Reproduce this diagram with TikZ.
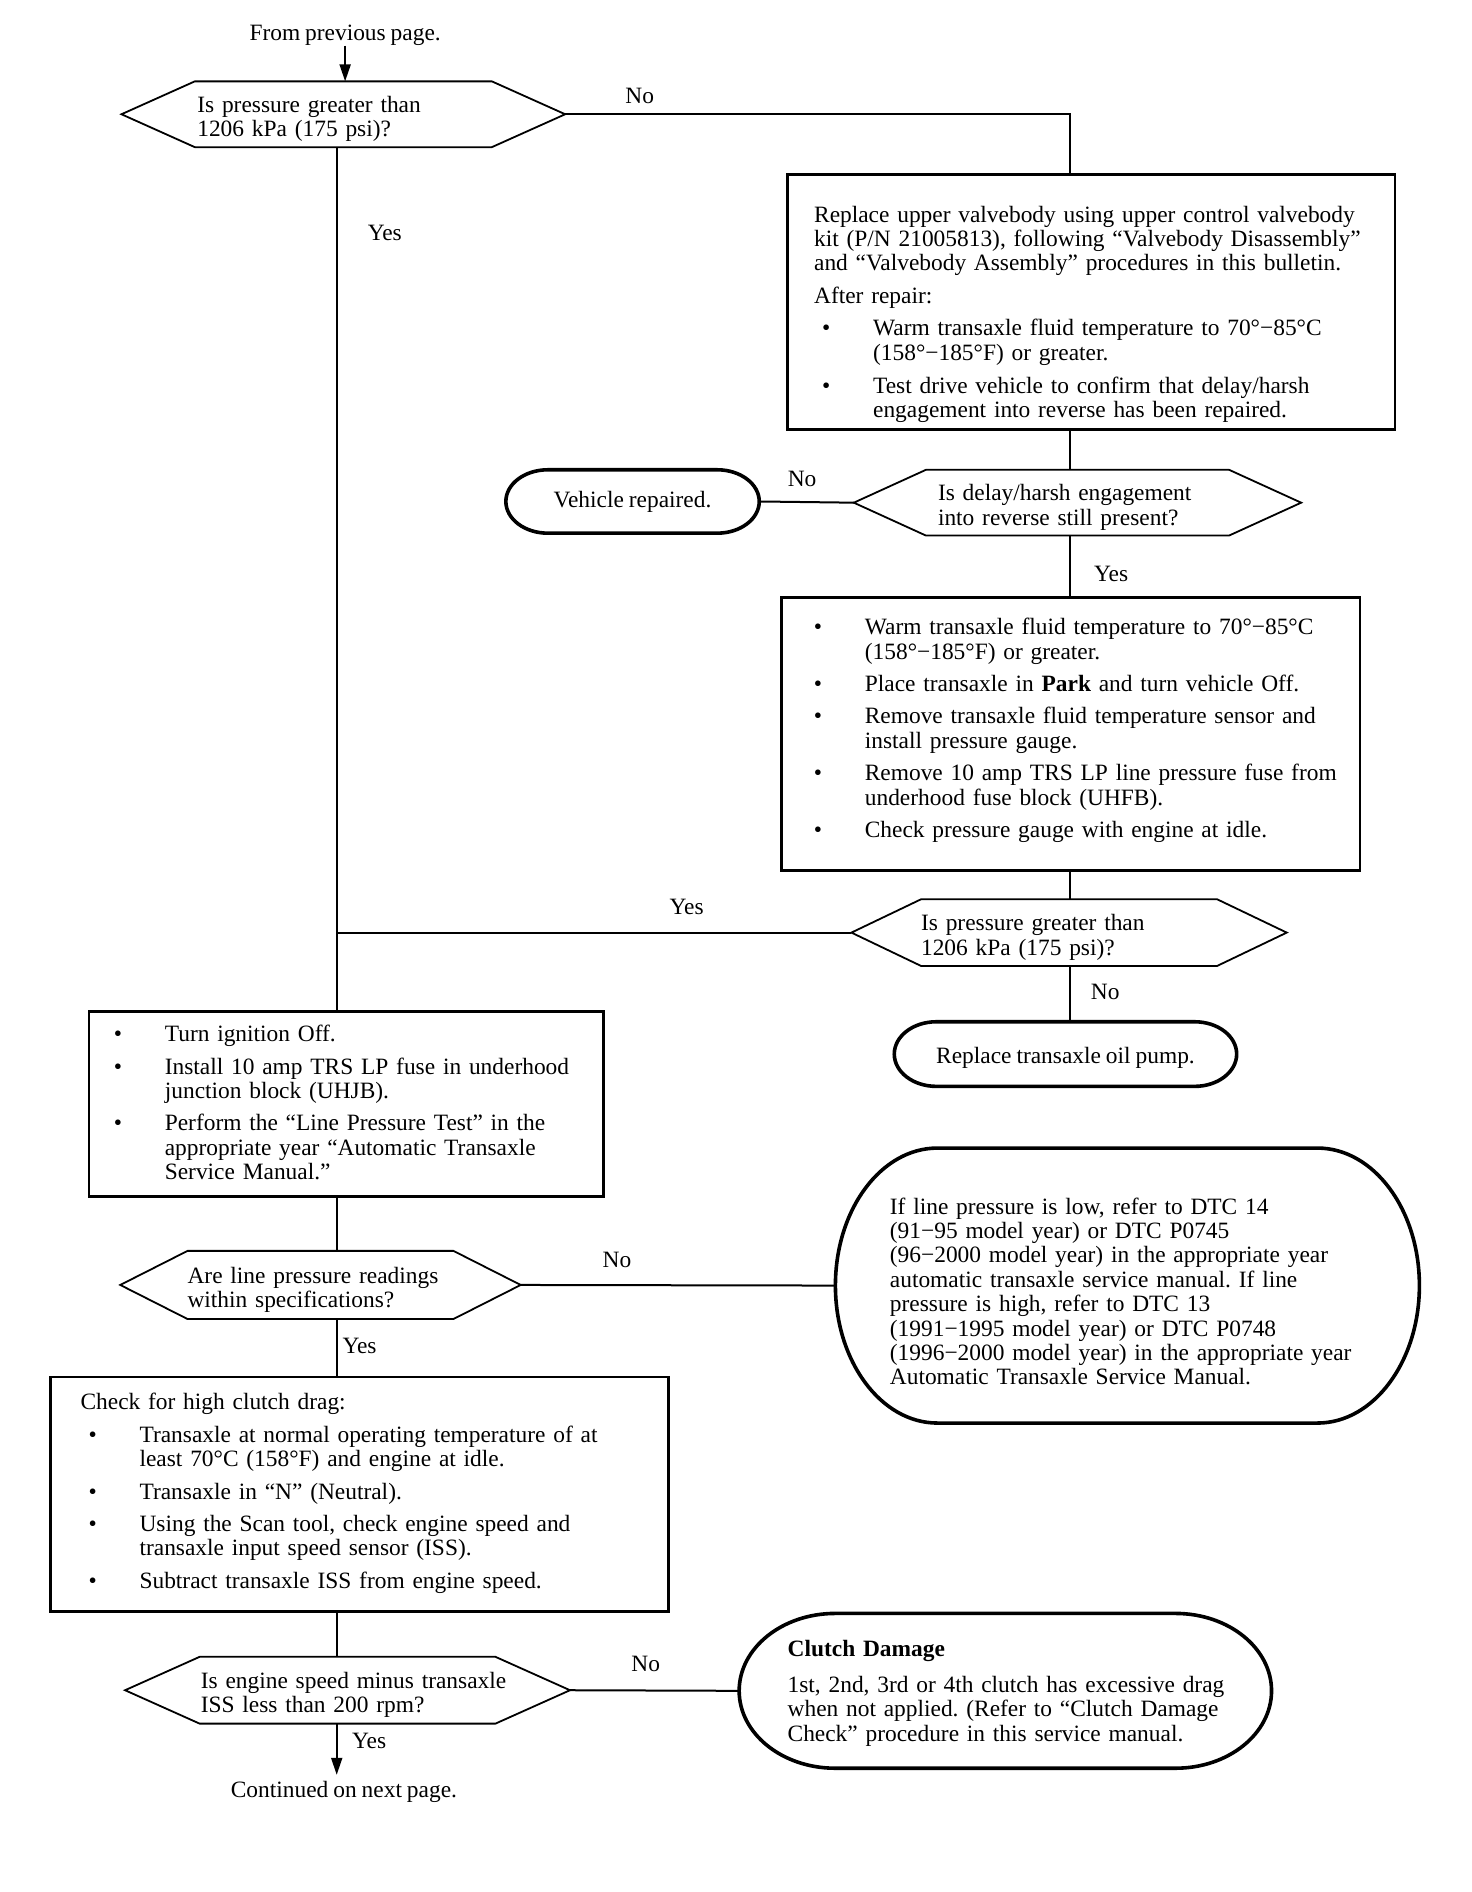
\documentclass[tikz,border=0pt]{standalone}
\usepackage{fontspec}
\setmainfont{Liberation Serif}[WordSpace=0.85]
\usetikzlibrary{calc, arrows.meta}
\frenchspacing

% bullet lines in the boxes
\newcommand{\itm}{\makebox[29.5pt][l]{\hspace*{4pt}\textbullet}}
\newcommand{\itmc}{\hspace*{29.5pt}}
% lines kept as set, optional shift up or down
\newcommand{\qlines}[2][0pt]{\raisebox{#1}[\height][\depth]{\begin{tabular}{@{}l@{}}#2\end{tabular}}}

% hexagon round a question node: half width, tip run
\newcommand{\hexa}[3]{%
  \coordinate (#1-l) at ($(#1.center)+(-#2-#3,0)$);
  \coordinate (#1-r) at ($(#1.center)+(#2+#3,0)$);
  \draw[askline] ($(#1.north)+(-#2,0)$) -- ($(#1.north)+(#2,0)$) -- (#1-r)
    -- ($(#1.south)+(#2,0)$) -- ($(#1.south)+(-#2,0)$) -- (#1-l) -- cycle;}

% rounded end shape round a result node: end radius
\newcommand{\capsule}[2]{%
  \draw[endline] let \p1=($(#1.north)-(#1.center)$) in
    ($(#1.north west)+(#2,0pt)$) -- ($(#1.north east)+(-#2,0pt)$)
    arc[start angle=90, end angle=-90, x radius=#2, y radius=\y1]
    -- ($(#1.south west)+(#2,0pt)$)
    arc[start angle=270, end angle=90, x radius=#2, y radius=\y1] -- cycle;}

\begin{document}
\begin{tikzpicture}[x=0.6013pt, y=-0.6013pt,
    every node/.style={font=\fontsize{11.7}{12.2}\selectfont, inner sep=0pt},
    flow/.style={line width=1pt},
    tip/.style={-{Triangle[length=8.5pt, width=5.5pt]}},
    actbox/.style={draw, line width=1.3pt, align=left},
    ask/.style={align=left},
    askline/.style={line width=0.9pt},
    endline/.style={line width=1.8pt}]

    \useasboundingbox[fill=white] (0,0) rectangle (1224,1573.3);
    \coordinate (spine) at (280,0);
    \coordinate (rspine) at (890,0);

    % questions
    \node (from) at (287,29) {From previous page.};
    \node[ask, minimum height=32.5pt, text width=146pt] (q1) at (285.5,95)
        {\qlines[-2.7pt]{Is pressure greater than\\1206 kPa (175 psi)?}};
    \node[ask, minimum height=32.5pt, text width=139.5pt] (q2) at (896,418)
        {\qlines[-2.7pt]{Is delay/harsh engagement\\into reverse still present?}};
    \node[ask, minimum height=33pt, text width=148pt] (q3) at (889,775.5)
        {\qlines[-2.7pt]{Is pressure greater than\\1206 kPa (175 psi)?}};
    \node[ask, minimum height=33.7pt, text width=132.9pt] (q4) at (266.5,1068.5)
        {\qlines[-2.7pt]{Are line pressure readings\\within specifications?}};
    \node[ask, minimum height=33pt, text width=146.7pt] (q5) at (289,1405.5)
        {\qlines[-2.7pt]{Is engine speed minus transaxle\\ISS less than 200 rpm?}};
    \hexa{q1}{123.5}{61}
    \hexa{q2}{126}{60}
    \hexa{q3}{123}{58}
    \hexa{q4}{110.5}{56}
    \hexa{q5}{123}{62}

    % steps
    \node[actbox, minimum width=303.7pt, minimum height=127.5pt, text width=277.2pt] (b1) at (907.5,251)
        {\qlines[-6.6pt]{Replace upper valvebody using upper control valvebody\\
         kit (P/N 21005813), following “Valvebody Disassembly”\\
         and “Valvebody Assembly” procedures in this bulletin.\\[4pt]
         After repair:\\[4pt]
         \itm Warm transaxle fluid temperature to 70°−85°C\\
         \itmc(158°−185°F) or greater.\\[4.5pt]
         \itm Test drive vehicle to confirm that delay/harsh\\
         \itmc engagement into reverse has been repaired.}};
    \node[actbox, minimum width=289.2pt, minimum height=136.5pt, text width=265pt] (b2) at (890.5,610.5)
        {\qlines[1.5pt]{\itm Warm transaxle fluid temperature to 70°−85°C\\
         \itmc(158°−185°F) or greater.\\[4pt]
         \itm Place transaxle in \textbf{Park} and turn vehicle Off.\\[4pt]
         \itm Remove transaxle fluid temperature sensor and\\
         \itmc install pressure gauge.\\[4pt]
         \itm Remove 10 amp TRS LP line pressure fuse from\\
         \itmc underhood fuse block (UHFB).\\[4pt]
         \itm Check pressure gauge with engine at idle.}};
    \node[actbox, minimum width=257.4pt, minimum height=92.6pt, text width=240.5pt] (b3) at (288,918)
        {\qlines[-0.9pt]{\itm Turn ignition Off.\\[4pt]
         \itm Install 10 amp TRS LP fuse in underhood\\
         \itmc junction block (UHJB).\\[4pt]
         \itm Perform the “Line Pressure Test” in the\\
         \itmc appropriate year “Automatic Transaxle\\
         \itmc Service Manual.”}};
    \node[actbox, minimum width=309pt, minimum height=117.3pt, text width=279pt] (b4) at (299,1242.5)
        {\qlines{Check for high clutch drag:\\[4pt]
         \itm Transaxle at normal operating temperature of at\\
         \itmc least 70°C (158°F) and engine at idle.\\[4pt]
         \itm Transaxle in “N” (Neutral).\\[4pt]
         \itm Using the Scan tool, check engine speed and\\
         \itmc transaxle input speed sensor (ISS).\\[4pt]
         \itm Subtract transaxle ISS from engine speed.}};

    % results
    \node[minimum width=126.3pt, minimum height=31.3pt] (term1) at (526,417) {Vehicle repaired.};
    \node[minimum width=170.8pt, minimum height=31.9pt] (term2) at (886,876.5)
        {\qlines[-2.4pt]{Replace transaxle oil pump.}};
    \node[ask, minimum width=291.6pt, minimum height=137.1pt, text width=237.5pt] (o2) at (937.5,1069)
        {\qlines[-4.5pt]{If line pressure is low, refer to DTC 14\\
         (91−95 model year) or DTC P0745\\
         (96−2000 model year) in the appropriate year\\
         automatic transaxle service manual. If line\\
         pressure is high, refer to DTC 13\\
         (1991−1995 model year) or DTC P0748\\
         (1996−2000 model year) in the appropriate year\\
         Automatic Transaxle Service Manual.}};
    \node[ask, minimum width=265.8pt, minimum height=77pt, text width=217.7pt] (o3) at (836,1406)
        {\qlines[-1.5pt]{\textbf{Clutch Damage}\\[5.8pt]
         1st, 2nd, 3rd or 4th clutch has excessive drag\\
         when not applied. (Refer to “Clutch Damage\\
         Check” procedure in this service manual.}};
    \capsule{term1}{21pt}
    \capsule{term2}{21pt}
    \capsule{o2}{51pt}
    \capsule{o3}{48pt}
    \node (cont) at (286,1490) {Continued on next page.};

    % connectors
    \draw[flow, tip] (from) -- (from |- q1.north);
    \draw[flow] (q1-r) -| (b1.north -| rspine);
    \draw[flow] (q1.south -| spine) -- (b3.north -| spine);
    \draw[flow] (b1.south -| rspine) -- (q2.north -| rspine);
    \draw[flow] (q2-l) -- (term1.east);
    \draw[flow] (q2.south -| rspine) -- (b2.north -| rspine);
    \draw[flow] (b2.south -| rspine) -- (q3.north -| rspine);
    \draw[flow] (q3-l) -- (q3-l -| spine);
    \draw[flow] (q3.south -| rspine) -- (term2.north -| rspine);
    \draw[flow] (b3.south -| spine) -- (q4.north -| spine);
    \draw[flow] (q4-r) -- (o2.west);
    \draw[flow] (q4.south -| spine) -- (b4.north -| spine);
    \draw[flow] (b4.south -| spine) -- (q5.north -| spine);
    \draw[flow] (q5-r) -- (o3.west);
    \draw[flow, tip, shorten >=3pt] (q5.south -| spine) -- (cont.north -| spine);

    % answers
    \node (no1) at (532,80) {No};
    \node (yes1) at (320,194) {Yes};
    \node (no2) at (667,398) {No};
    \node (yes2) at (924,477) {Yes};
    \node (yes3) at (571,754) {Yes};
    \node (no3) at (919,825) {No};
    \node (no4) at (513,1048) {No};
    \node (yes4) at (299,1119) {Yes};
    \node (no5) at (537,1384) {No};
    \node (yes5) at (307,1448) {Yes};
\end{tikzpicture}
\end{document}
